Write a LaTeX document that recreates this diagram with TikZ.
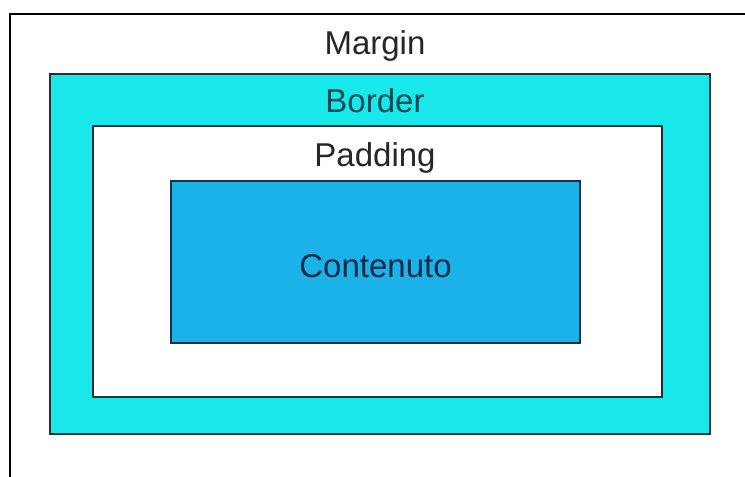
\documentclass[tikz,border=0pt]{standalone}
\usepackage{fontspec}
\setmainfont{Liberation Sans}
\definecolor{bordercyan}{HTML}{18E8EA}
\definecolor{contentblue}{HTML}{1AB2E8}
\definecolor{edgegray}{HTML}{1E3238}
\definecolor{bordertext}{HTML}{0E4A52}
\definecolor{contenttext}{HTML}{102A48}
\begin{document}
\begin{tikzpicture}[x=1pt,y=-1pt]
\tikzset{
base/.style={draw=edgegray,line width=1.6pt,inner sep=0pt},
layer/.style={base,minimum width=#1},
lbl/.style={font=\fontsize{33}{38}\selectfont,inner sep=0pt}}
\useasboundingbox (0,0) rectangle (745,477);
\coordinate (mlow) at (10,477);
\coordinate (mcorner) at (10,14);
\coordinate (mright) at (745,14);
\draw[line width=2pt,black] (mlow) -- (mcorner) -- (mright);
\node[layer=660pt,minimum height=360pt,fill=bordercyan] at (380,254) (B) {};
\node[layer=569pt,minimum height=271pt,fill=white] at (377.5,261.5) (P) {};
\node[layer=409pt,minimum height=162pt,fill=contentblue] at (375.5,262) (C) {};
\node[lbl,text=black!85] at (375,46) (margin) {Margin};
\node[lbl,text=bordertext] at (375,101) (border) {Border};
\node[lbl,text=black!85] at (375,158) (padding) {Padding};
\node[lbl,text=contenttext] at (375.5,266) (content) {Contenuto};
\end{tikzpicture}
\end{document}
